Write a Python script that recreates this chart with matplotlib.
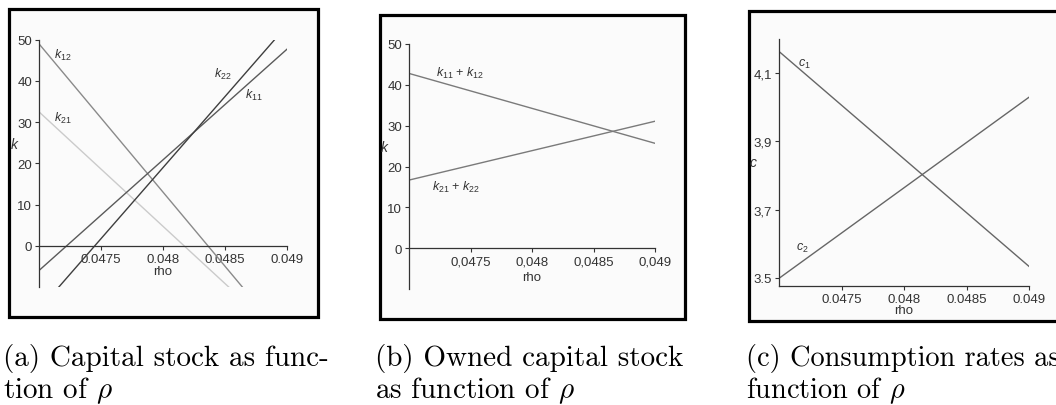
import matplotlib
matplotlib.use("Agg")
import matplotlib.pyplot as plt
from matplotlib.patches import Rectangle

plt.rcParams['font.family'] = 'Liberation Sans'
plt.rcParams['mathtext.fontset'] = 'custom'
plt.rcParams['mathtext.rm'] = 'Liberation Sans'
plt.rcParams['mathtext.it'] = 'Liberation Sans:italic'

W, H = 1056, 406

# --- data (line end points, rho on x) ---
rho_k12 = [0.047, 0.04864]
k12 = [49.0, -10.0]
rho_k21 = [0.047, 0.04853]
k21 = [32.5, -10.0]
rho_k11 = [0.047, 0.049]
k11 = [-6.0, 47.7]
rho_k22 = [0.04716, 0.0489]
k22 = [-10.0, 50.0]

rho_b = [0.047, 0.049]
k_own1 = [42.8, 25.7]   # k11 + k12
k_own2 = [16.7, 31.1]   # k21 + k22

rho_c = [0.047, 0.049]
c1 = [4.163, 3.534]
c2 = [3.499, 4.029]

xticks = [0.0475, 0.048, 0.0485, 0.049]
xlab_dot = ['0.0475', '0.048', '0.0485', '0.049']
xlab_comma = ['0,0475', '0,048', '0,0485', '0,049']
kticks = [0, 10, 20, 30, 40, 50]
cticks = [3.5, 3.7, 3.9, 4.1]
clab = ['3.5', '3,7', '3,9', '4,1']

captions = [
    ('(a) Capital stock as func-', r'tion of $\rho$'),
    ('(b) Owned capital stock', r'as function of $\rho$'),
    ('(c) Consumption rates as', r'function of $\rho$'),
]
caption_x = [3, 375, 746]
caption_size = [21, 21, 20.4]

TXT = '#333333'


def px_axes(x0, x1, ytop, ybot):
    return fig.add_axes([x0 / W, 1 - ybot / H, (x1 - x0) / W, (ybot - ytop) / H])


def frame(x0, x1, ytop, ybot):
    fig.add_artist(Rectangle((x0 / W, 1 - ybot / H), (x1 - x0) / W, (ybot - ytop) / H,
                             transform=fig.transFigure, facecolor='#fbfbfb',
                             edgecolor='black', lw=2.3, zorder=0))


def style(ax, zero_axis=True):
    ax.patch.set_visible(False)
    for s in ['top', 'right']:
        ax.spines[s].set_visible(False)
    for s in ['left', 'bottom']:
        ax.spines[s].set_color(TXT)
        ax.spines[s].set_linewidth(0.9)
    if zero_axis:
        ax.spines['bottom'].set_position(('data', 0))
    ax.tick_params(direction='out', length=3, width=0.8, color=TXT,
                   labelsize=9.5, labelcolor=TXT, pad=2)


def lab(ax, x, y, s, size=9):
    ax.text(x, y, s, fontsize=size, ha='center', va='center', color=TXT)


fig = plt.figure(figsize=(W / 100, H / 100), dpi=100)

frame(9, 317.5, 10, 318)
frame(380, 685, 15.7, 320)
frame(749, 1070, 11.7, 322)

# (a) capital stock
ax = px_axes(39, 287, 40.7, 288)
ax.plot(rho_k12, k12, color='#8a8a8a', lw=1.0)
ax.plot(rho_k21, k21, color='#cbcbcb', lw=1.0)
ax.plot(rho_k11, k11, color='#5a5a5a', lw=1.0)
ax.plot(rho_k22, k22, color='#3e3e3e', lw=1.0)
ax.set_xlim(0.047, 0.049)
ax.set_ylim(-10, 50)
style(ax)
ax.set_xticks(xticks, xlab_dot)
ax.set_yticks(kticks)
lab(ax, 0.04719, 46.5, r'$k_{12}$')
lab(ax, 0.04719, 31.2, r'$k_{21}$')
lab(ax, 0.04848, 41.7, r'$k_{22}$')
lab(ax, 0.04873, 36.8, r'$k_{11}$')
lab(ax, 0.046806, 24.7, r'$k$', 10)
lab(ax, 0.048, -6.2, 'rho', 9.5)

# (b) owned capital stock
ax = px_axes(409, 655, 45, 290.2)
ax.plot(rho_b, k_own1, color='#7a7a7a', lw=1.0)
ax.plot(rho_b, k_own2, color='#7a7a7a', lw=1.0)
ax.set_xlim(0.047, 0.049)
ax.set_ylim(-10, 50)
style(ax)
ax.set_xticks(xticks, xlab_comma)
ax.set_yticks(kticks)
lab(ax, 0.047413, 43.0, r'$k_{11}$ + $k_{12}$')
lab(ax, 0.047386, 15.2, r'$k_{21}$ + $k_{22}$')
lab(ax, 0.046806, 24.8, r'$k$', 10)
lab(ax, 0.048, -7.0, 'rho', 9.5)

# (c) consumption rates
ax = px_axes(779, 1029, 39.8, 287.3)
ax.plot(rho_c, c1, color='#666666', lw=1.0)
ax.plot(rho_c, c2, color='#666666', lw=1.0)
ax.set_xlim(0.047, 0.049)
ax.set_ylim(3.4757, 4.2)
style(ax, zero_axis=False)
ax.set_xticks(xticks, xlab_dot)
ax.set_yticks(cticks, clab)
lab(ax, 0.0472, 4.127, r'$c_{1}$')
lab(ax, 0.04719, 3.59, r'$c_{2}$')
lab(ax, 0.046793, 3.839, r'$c$', 10)
lab(ax, 0.048, 3.405, 'rho', 9.5)

# captions under each panel
for x0, size, (l1, l2) in zip(caption_x, caption_size, captions):
    fig.text(x0 / W, 1 - 366 / H, l1, family='cmr10', math_fontfamily='cm',
             fontsize=size, ha='left', va='baseline')
    fig.text(x0 / W, 1 - 398 / H, l2, family='cmr10', math_fontfamily='cm',
             fontsize=size, ha='left', va='baseline')

fig.savefig('out.png', dpi=100)
